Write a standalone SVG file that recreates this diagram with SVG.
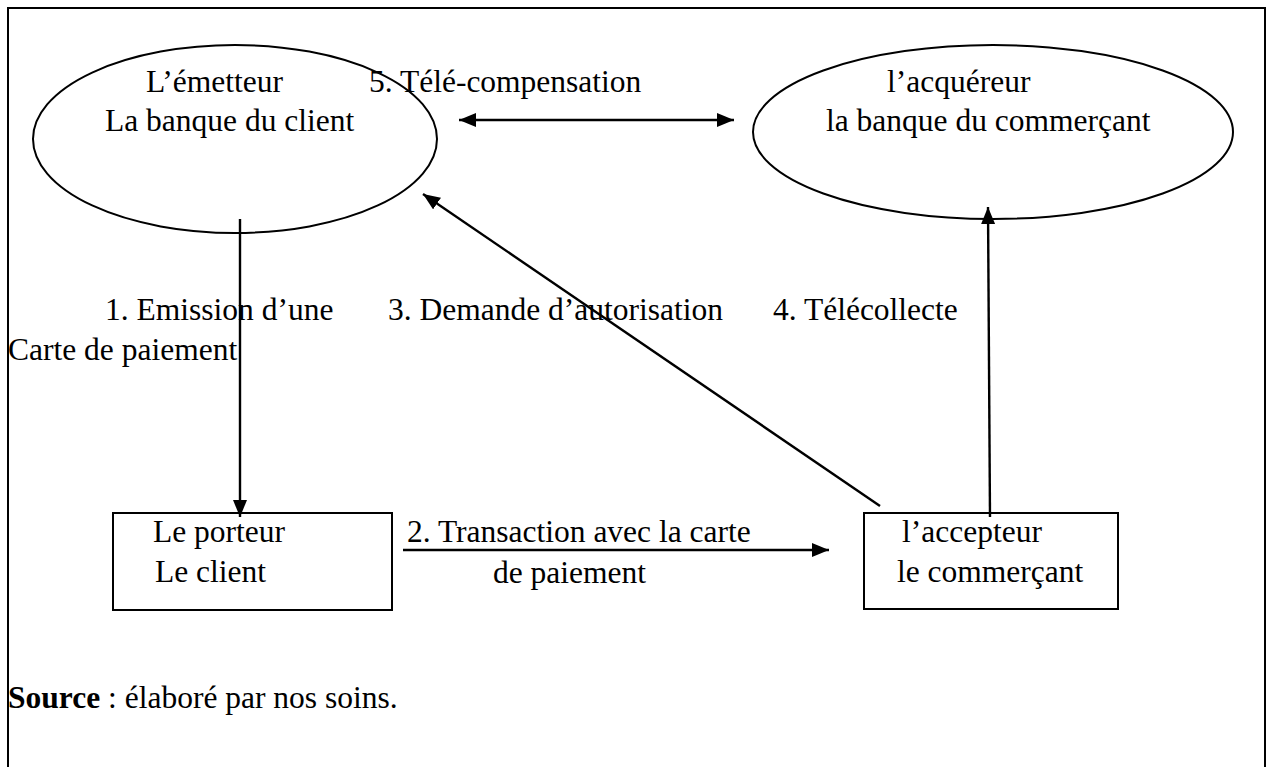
<svg xmlns="http://www.w3.org/2000/svg" width="1268" height="767" viewBox="0 0 1268 767">
<style>
text{font-family:"Liberation Serif","Times New Roman",serif;font-size:31.5px;fill:#000}
.shape{fill:none;stroke:#000;stroke-width:2}
.conn{fill:none;stroke:#000;stroke-width:2.4}
</style>
<defs>
<marker id="ah" viewBox="0 0 10 10" refX="10" refY="5" markerWidth="17" markerHeight="14" markerUnits="userSpaceOnUse" orient="auto-start-reverse" preserveAspectRatio="none">
<path d="M0,0 L10,5 L0,10 z" fill="#000"/>
</marker>
</defs>
<rect width="1268" height="767" fill="#fff"/>
<path d="M8,767 V8 H1265 V767" fill="none" stroke="#000" stroke-width="2"/>
<g id="emetteur">
<ellipse class="shape" cx="235" cy="139" rx="202" ry="94"/>
<text x="146" y="92">L’émetteur</text>
<text x="105" y="131">La banque du client</text>
</g>
<g id="acquereur">
<ellipse class="shape" cx="993" cy="132" rx="240" ry="87"/>
<text x="887" y="92">l’acquéreur</text>
<text x="826" y="131">la banque du commerçant</text>
</g>
<g id="porteur">
<rect class="shape" x="113" y="513" width="279" height="97"/>
<text x="153" y="542">Le porteur</text>
<text x="155" y="582">Le client</text>
</g>
<g id="accepteur">
<rect class="shape" x="864" y="513" width="254" height="96"/>
<text x="902" y="542">l’accepteur</text>
<text x="897" y="582">le commerçant</text>
</g>
<g id="connectors">
<line class="conn" x1="459" y1="120" x2="734" y2="120" marker-start="url(#ah)" marker-end="url(#ah)"/>
<line class="conn" x1="240" y1="219" x2="240" y2="517" marker-end="url(#ah)"/>
<line class="conn" x1="403" y1="550" x2="829" y2="550" marker-end="url(#ah)"/>
<line class="conn" x1="880" y1="506" x2="423" y2="194" marker-end="url(#ah)"/>
<line class="conn" x1="990" y1="517" x2="988" y2="207" marker-end="url(#ah)"/>
<text x="369" y="92">5. Télé-compensation</text>
<text x="105" y="320">1. Emission d’une</text>
<text x="8" y="360">Carte de paiement</text>
<text x="388" y="320">3. Demande d’autorisation</text>
<text x="773" y="320">4. Télécollecte</text>
<text x="407" y="542">2. Transaction avec la carte</text>
<text x="493" y="583">de paiement</text>
</g>
<text x="8" y="708"><tspan font-weight="bold">Source</tspan> : élaboré par nos soins.</text>
</svg>
